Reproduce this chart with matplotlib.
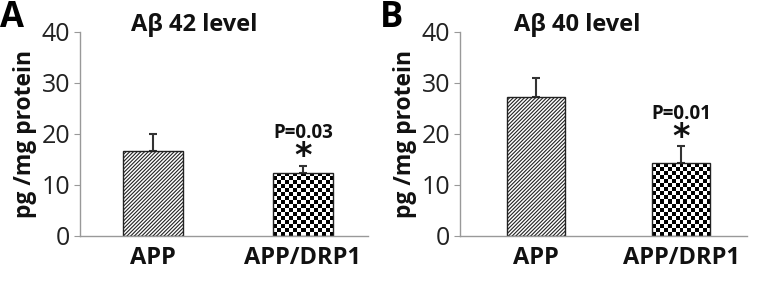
import numpy as np
import matplotlib
import matplotlib.pyplot as plt

matplotlib.use("Agg")
plt.rcParams['font.family'] = ['Open Sans', 'DejaVu Sans']
plt.rcParams['hatch.linewidth'] = 0.8

groups = ["APP", "APP/DRP1"]
a42_mean = [16.7, 12.4]
a42_err = [3.2, 1.4]
a40_mean = [27.2, 14.3]
a40_err = [3.7, 3.4]
titles = ["A\u03b2 42 level", "A\u03b2 40 level"]
pvals = ["P=0.03", "P=0.01"]
letters = ["A", "B"]
yticks = [0, 10, 20, 30, 40]

fig = plt.figure(figsize=(7.6, 2.85), dpi=100)
axA = fig.add_axes([0.105, 0.172, 0.379, 0.716])
axB = fig.add_axes([0.605, 0.172, 0.378, 0.716])

checker = np.indices((60, 60)).sum(axis=0) % 2


def panel(ax, means, errs, title, ptxt, letter, xlim, title_x):
    x = np.arange(len(groups))
    ax.set_xlim(*xlim)
    ax.set_ylim(0, 40)
    bars = ax.bar(x, means, width=0.4, color="white", edgecolor="#222222",
                  linewidth=1.0, zorder=2)
    bars[0].set_hatch("/////////")
    bars[1].set_facecolor("none")
    ax.errorbar(x, means, yerr=[[0, 0], errs], fmt="none", ecolor="#333333",
                elinewidth=1.5, capsize=3, capthick=1.5, zorder=1)
    ax.set_yticks(yticks)
    ax.set_xticks(x)
    ax.set_xticklabels(groups, fontsize=17, fontweight="bold", color="#111111")
    ax.tick_params(axis="x", length=0, pad=7)
    ax.tick_params(axis="y", length=4, color="#999999", labelsize=18,
                   labelcolor="#222222", pad=3)
    for s in ["top", "right"]:
        ax.spines[s].set_visible(False)
    for s in ["left", "bottom"]:
        ax.spines[s].set_color("#999999")
        ax.spines[s].set_linewidth(1.0)
    ax.set_ylabel("pg /mg protein", fontsize=16.5, fontweight="bold",
                  color="#111111", labelpad=3)
    ax.text(title_x, 1.035, title, transform=ax.transAxes, fontsize=17,
            fontweight="bold", ha="center", va="center", color="#111111")

    # checkerboard fill of second bar
    b = bars[1]
    x0, y0 = b.get_x(), b.get_y()
    x1, y1 = x0 + b.get_width(), y0 + b.get_height()
    p0 = ax.transData.transform((x0, y0))
    p1 = ax.transData.transform((x1, y1))
    nx = max(1, int(round((p1[0] - p0[0]) / 4.0)))
    ny = max(1, int(round((p1[1] - p0[1]) / 4.0)))
    im = ax.imshow(checker[:ny, :nx], cmap="gray_r", vmin=0, vmax=1,
                   extent=(x0, x1, y0, y1), aspect="auto",
                   interpolation="nearest", zorder=1.5)
    im.set_clip_path(b)
    ax.set_xlim(*xlim)
    ax.set_ylim(0, 40)

    star_y = means[1] + errs[1] + 1.7
    ax.text(1, star_y, "*", fontsize=24, fontweight="bold", ha="center",
            va="center", color="#111111", family="DejaVu Sans")
    ax.text(1, star_y + 4.6, ptxt, fontsize=13.5, fontweight="bold",
            ha="center", va="center", color="#111111")
    fig.text(ax.get_position().x0 - 0.105, 1.0, letter, fontsize=25,
             fontweight="bold", ha="left", va="top", color="black")


panel(axA, a42_mean, a42_err, titles[0], pvals[0], letters[0],
      (-0.487, 1.433), 0.396)
panel(axB, a40_mean, a40_err, titles[1], pvals[1], letters[1],
      (-0.524, 1.455), 0.41)

fig.savefig("out.png", dpi=100)
